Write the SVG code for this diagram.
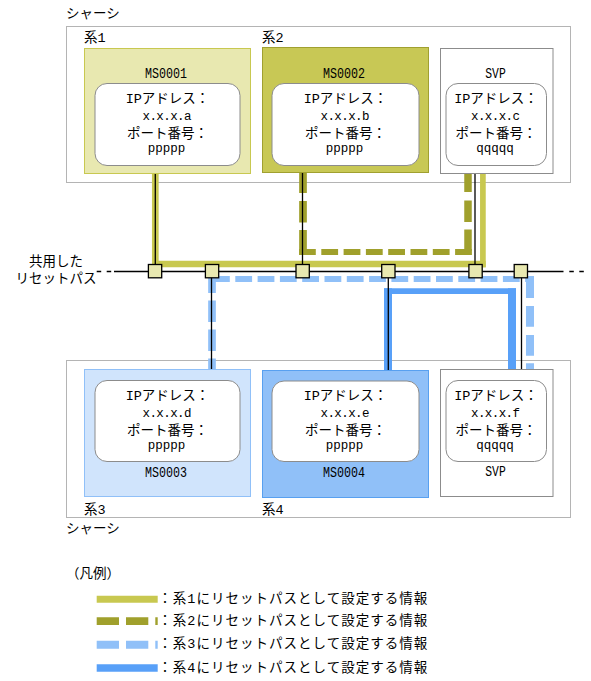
<svg xmlns="http://www.w3.org/2000/svg" width="591" height="681" viewBox="0 0 591 681">
<style>
text{font-family:"Liberation Mono","Noto Sans CJK JP",monospace;font-size:13.5px;fill:#000}
.c{text-anchor:middle}
.s{font-size:12.5px}
.lb{font-size:15.5px}
.ch{fill:#fff;stroke:#b4b4b4;stroke-width:1}
.in{fill:#fff;stroke:#8c8c8c;stroke-width:1}
.svp{fill:#fff;stroke:#8c8c8c;stroke-width:1}
.k1{fill:#e8e8b0;stroke:#c8c850;stroke-width:1}
.k2{fill:#c8c855;stroke:#a0a030;stroke-width:1}
.k3{fill:#d0e4fc;stroke:#90c0f8;stroke-width:1}
.k4{fill:#90c0f8;stroke:#58a0f0;stroke-width:1}
.l1{stroke:#c8c850;fill:none}
.l2{stroke:#a0a02c;fill:none}
.l3{stroke:#90c0f8;fill:none}
.l4{stroke:#58a0f8;fill:none}
.bk{stroke:#000;stroke-width:1.3;fill:none}
.sq{fill:#e8e8b0;stroke:#000;stroke-width:1.3}
</style>

<g id="chassis-top">
<rect class="ch" x="66.5" y="26.5" width="504" height="156"/>
<text x="66" y="18">シャーシ</text>
<text x="84" y="42">系1</text>
<text x="262" y="42">系2</text>
</g>

<g id="chassis-bottom">
<rect class="ch" x="66.5" y="360.5" width="504" height="157"/>
<text x="84" y="514">系3</text>
<text x="262" y="514">系4</text>
<text x="66" y="533">シャーシ</text>
</g>

<g id="connectors">
<!-- 系1 -->
<line class="l1" x1="155.3" y1="173.5" x2="155.3" y2="267.3" stroke-width="6.7"/>
<line class="l1" x1="152" y1="264" x2="485.7" y2="264" stroke-width="6.6"/>
<line class="l1" x1="482.9" y1="173.5" x2="482.9" y2="267.3" stroke-width="5.7"/>
<!-- 系2 -->
<line class="l2" x1="303" y1="173" x2="303" y2="255" stroke-width="7.7" stroke-dasharray="20 8 21.5 7.5 23 10"/>
<line class="l2" x1="299" y1="252" x2="472" y2="252" stroke-width="6" stroke-dasharray="16.8 5.5"/>
<line class="l2" x1="468" y1="173.5" x2="468" y2="255" stroke-width="7.5" stroke-dasharray="18.5 8.5 21.5 7.5 21.5 10"/>
<!-- 系3 -->
<line class="l3" x1="212" y1="275.5" x2="212" y2="369.5" stroke-width="7.7" stroke-dasharray="17.5 7.5 21.5 7.5 21.5 7.5 21.5 10"/>
<line class="l3" x1="213" y1="279" x2="534" y2="279" stroke-width="6" stroke-dasharray="16.8 5.5"/>
<line class="l3" x1="530" y1="276" x2="530" y2="369.5" stroke-width="8" stroke-dasharray="22 8 20.7 8.3 20.7 7.6 10 10"/>
<!-- 系4 -->
<line class="l4" x1="388" y1="288.3" x2="388" y2="370.5" stroke-width="8"/>
<line class="l4" x1="384" y1="291.2" x2="516" y2="291.2" stroke-width="5.7"/>
<line class="l4" x1="512" y1="288.3" x2="512" y2="369.5" stroke-width="8"/>
<!-- physical links -->
<line class="bk" x1="155.3" y1="173.5" x2="155.3" y2="271.5"/>
<line class="bk" x1="211.5" y1="271.5" x2="211.5" y2="369.5"/>
<line class="bk" x1="302.5" y1="172.5" x2="302.5" y2="271.5"/>
<line class="bk" x1="388.3" y1="271.5" x2="388.3" y2="370.5"/>
<line class="bk" x1="475" y1="173.5" x2="475" y2="271.5"/>
<line class="bk" x1="521.5" y1="271.5" x2="521.5" y2="369.5"/>
<!-- shared reset path bus -->
<line class="bk" x1="114" y1="271.5" x2="563.5" y2="271.5"/>
<line class="bk" x1="96.7" y1="271.5" x2="112" y2="271.5" stroke-dasharray="4.5 5.5"/>
<line class="bk" x1="569.3" y1="271.5" x2="584" y2="271.5" stroke-dasharray="4.5 5.5"/>
<rect class="sq" x="148.4" y="264.5" width="13.3" height="13.3"/>
<rect class="sq" x="205.4" y="264.5" width="13.3" height="13.3"/>
<rect class="sq" x="296" y="264.5" width="13.3" height="13.3"/>
<rect class="sq" x="381.7" y="264.5" width="13.3" height="13.3"/>
<rect class="sq" x="468.9" y="264.5" width="13.3" height="13.3"/>
<rect class="sq" x="514.2" y="264.5" width="13.3" height="13.3"/>
<text class="c" x="56" y="266">共用した</text>
<text class="c" x="56" y="283">リセットパス</text>
</g>

<g id="ms0001">
<rect class="k1" x="84.5" y="48.5" width="166" height="125"/>
<text class="c lb" x="166" y="78" textLength="42" lengthAdjust="spacingAndGlyphs">MS0001</text>
<rect class="in" x="95" y="83.5" width="145" height="82" rx="12"/>
<text class="c" x="167.5" y="102.5">IPアドレス：</text>
<text class="c s" x="167" y="120" textLength="49" lengthAdjust="spacing">x.x.x.a</text>
<text class="c" x="167.5" y="137.5">ポート番号：</text>
<text class="c s" x="166.5" y="151.5">ppppp</text>
</g>

<g id="ms0002">
<rect class="k2" x="262.5" y="47.5" width="166" height="125"/>
<text class="c lb" x="344" y="78" textLength="42" lengthAdjust="spacingAndGlyphs">MS0002</text>
<rect class="in" x="272" y="83.5" width="147" height="82" rx="12"/>
<text class="c" x="345.5" y="102.5">IPアドレス：</text>
<text class="c s" x="345" y="120" textLength="49" lengthAdjust="spacing">x.x.x.b</text>
<text class="c" x="345.5" y="137.5">ポート番号：</text>
<text class="c s" x="344.5" y="151.5">ppppp</text>
</g>

<g id="svp-top">
<rect class="svp" x="440.5" y="48.5" width="112.5" height="125"/>
<text class="c lb" x="495.5" y="77.5" textLength="20.5" lengthAdjust="spacingAndGlyphs">SVP</text>
<rect class="in" x="446" y="83.5" width="100.5" height="82" rx="12"/>
<text class="c" x="496" y="102.5">IPアドレス：</text>
<text class="c s" x="495.5" y="120" textLength="49" lengthAdjust="spacing">x.x.x.c</text>
<text class="c" x="496" y="137.5">ポート番号：</text>
<text class="c s" x="495" y="151.5">qqqqq</text>
</g>

<g id="ms0003">
<rect class="k3" x="84.5" y="369.5" width="166" height="127"/>
<rect class="in" x="95" y="380.5" width="145" height="81" rx="12"/>
<text class="c" x="167.5" y="399.5">IPアドレス：</text>
<text class="c s" x="167" y="417" textLength="49" lengthAdjust="spacing">x.x.x.d</text>
<text class="c" x="167.5" y="434.5">ポート番号：</text>
<text class="c s" x="166.5" y="449">ppppp</text>
<text class="c lb" x="166" y="476.5" textLength="42" lengthAdjust="spacingAndGlyphs">MS0003</text>
</g>

<g id="ms0004">
<rect class="k4" x="262.5" y="370.5" width="166" height="127"/>
<rect class="in" x="272" y="381" width="147" height="80.5" rx="12"/>
<text class="c" x="345.5" y="399.5">IPアドレス：</text>
<text class="c s" x="345" y="417" textLength="49" lengthAdjust="spacing">x.x.x.e</text>
<text class="c" x="345.5" y="434.5">ポート番号：</text>
<text class="c s" x="344.5" y="449">ppppp</text>
<text class="c lb" x="344" y="476.5" textLength="42" lengthAdjust="spacingAndGlyphs">MS0004</text>
</g>

<g id="svp-bottom">
<rect class="svp" x="440.5" y="369.5" width="112.5" height="127"/>
<rect class="in" x="446" y="380.5" width="100.5" height="81" rx="12"/>
<text class="c" x="496" y="399.5">IPアドレス：</text>
<text class="c s" x="495.5" y="417" textLength="49" lengthAdjust="spacing">x.x.x.f</text>
<text class="c" x="496" y="434.5">ポート番号：</text>
<text class="c s" x="495" y="449">qqqqq</text>
<text class="c lb" x="495.5" y="476" textLength="20.5" lengthAdjust="spacingAndGlyphs">SVP</text>
</g>

<g id="legend">
<text x="66" y="578">（凡例）</text>
<line class="l1" x1="96.7" y1="599.2" x2="157.7" y2="599.2" stroke-width="7"/>
<line class="l2" x1="96.7" y1="621.2" x2="157.7" y2="621.2" stroke-width="7.7" stroke-dasharray="22.3 7"/>
<line class="l3" x1="96.7" y1="644.7" x2="157.7" y2="644.7" stroke-width="8" stroke-dasharray="22.3 7"/>
<line class="l4" x1="96.7" y1="668" x2="157.7" y2="668" stroke-width="7.3"/>
<text x="158.3" y="603" textLength="269" lengthAdjust="spacing">：系1にリセットパスとして設定する情報</text>
<text x="158.3" y="625" textLength="269" lengthAdjust="spacing">：系2にリセットパスとして設定する情報</text>
<text x="158.3" y="648" textLength="269" lengthAdjust="spacing">：系3にリセットパスとして設定する情報</text>
<text x="158.3" y="671.5" textLength="269" lengthAdjust="spacing">：系4にリセットパスとして設定する情報</text>
</g>
</svg>
